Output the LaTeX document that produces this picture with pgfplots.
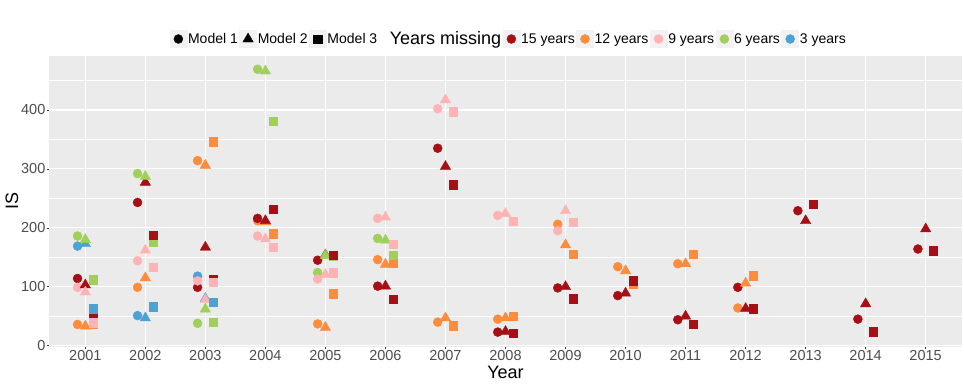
\documentclass[border=0pt]{standalone}
\usepackage{fontspec}
\setmainfont{Liberation Sans}
\usepackage{pgfplots}
\usepackage{pgfplotstable}
\pgfplotsset{compat=1.18}

\definecolor{panel}{HTML}{EBEBEB}
\definecolor{ticktext}{HTML}{4D4D4D}
\definecolor{c15}{HTML}{A50F15}
\definecolor{c12}{HTML}{FD8D3C}
\definecolor{c9}{HTML}{FFB3B5}
\definecolor{c6}{HTML}{A0CF5A}
\definecolor{c3}{HTML}{4BA2D3}

% IS values, one table per model; nan = no estimate for that year
\pgfplotstableread{
year r15 o12 p9  g6  b3
2001 114 36  99  186 169
2002 243 99  144 292 51
2003 99  314 110 38  118
2004 216 212 186 469 nan
2005 145 37  113 124 nan
2006 101 146 216 182 nan
2007 335 40  402 nan nan
2008 23  45  221 nan nan
2009 98  206 195 nan nan
2010 85  134 nan nan nan
2011 44  139 nan nan nan
2012 99  64  nan nan nan
2013 229 nan nan nan nan
2014 45  nan nan nan nan
2015 164 nan nan nan nan
}\modelone

\pgfplotstableread{
year r15 o12 p9  g6  b3
2001 103 33  91  180 173
2002 277 115 162 287 47
2003 167 306 78  62  80
2004 212 210 181 466 nan
2005 154 31  121 153 nan
2006 101 138 218 179 nan
2007 304 47  417 nan nan
2008 24  47  224 nan nan
2009 100 171 229 nan nan
2010 89  127 nan nan nan
2011 50  139 nan nan nan
2012 63  106 nan nan nan
2013 212 nan nan nan nan
2014 71  nan nan nan nan
2015 198 nan nan nan nan
}\modeltwo

\pgfplotstableread{
year r15 o12 p9  g6  b3
2001 50  37  39  112 63
2002 187 181 133 176 66
2003 112 346 108 40  74
2004 232 190 167 381 nan
2005 154 88  124 152 nan
2006 79  141 172 154 nan
2007 273 34  397 nan nan
2008 21  50  211 nan nan
2009 80  155 210 nan nan
2010 110 105 nan nan nan
2011 36  155 nan nan nan
2012 63  119 nan nan nan
2013 240 nan nan nan nan
2014 24  nan nan nan nan
2015 161 nan nan nan nan
}\modelthree

\pgfplotsset{
  m1/.style={only marks, mark=*, mark size=4.5pt, forget plot},
  m2/.style={only marks, mark=triangle*, mark size=6pt, forget plot},
  m3/.style={only marks, mark=square*, mark size=4.2pt, forget plot},
  keyimg/.style={legend image code/.code={
      \fill[black!5] (0pt,-8.5pt) rectangle (17pt,8.5pt);
      \draw[mark repeat=2,mark phase=2] plot coordinates {(0pt,0pt) (8.5pt,0pt) (17pt,0pt)};}},
}

\begin{document}
\begin{tikzpicture}
\useasboundingbox (-49.3pt,-39.5pt) rectangle (914.7pt,346.5pt);
\begin{axis}[
  at={(0,0)}, anchor=south west,
  scale only axis,
  width=912.4pt, height=290.5pt,
  xmin=2000.4, xmax=2015.6,
  ymin=-1.4, ymax=491.5,
  xtick={2001,...,2015},
  ytick={0,100,...,400},
  minor ytick={50,150,...,450},
  /pgf/number format/1000 sep={},
  /pgf/number format/assume math mode=true,
  axis background/.style={fill=panel},
  axis line style={draw=none},
  grid=both,
  major grid style={white, line width=1.2pt},
  minor grid style={white, line width=0.6pt},
  tick pos=left,
  tick align=outside,
  major tick length=2.75pt,
  minor tick length=0pt,
  tick style={color=black!80, line width=0.6pt},
  ticklabel style={font=\fontsize{14.5}{16}\selectfont, text=ticktext},
  xticklabel style={inner sep=1pt},
  yticklabel style={inner sep=1pt},
  xlabel={Year},
  ylabel={IS},
  xlabel style={at={(axis description cs:0.5,-0.11)}, anchor=base, font=\fontsize{18}{20}\selectfont},
  ylabel style={at={(axis description cs:-0.0343,0.5)}, anchor=base, font=\fontsize{18}{20}\selectfont},
  legend style={at={(axis description cs:0.503,1.0585)}, anchor=center,
    draw=none, fill=none, legend columns=-1,
    font=\fontsize{14}{16}\selectfont,
    nodes={inner sep=1pt},
    /tikz/every odd column/.append style={column sep=0pt},
    /tikz/every even column/.append style={column sep=0.5pt}},
]
% model 1: circles
\addplot[m1, color=c3]  table[x expr=\thisrow{year}-0.13, y=b3] {\modelone};
\addplot[m1, color=c12] table[x expr=\thisrow{year}-0.13, y=o12] {\modelone};
\addplot[m1, color=c15] table[x expr=\thisrow{year}-0.13, y=r15] {\modelone};
\addplot[m1, color=c6]  table[x expr=\thisrow{year}-0.13, y=g6] {\modelone};
\addplot[m1, color=c9]  table[x expr=\thisrow{year}-0.13, y=p9] {\modelone};
% model 2: triangles
\addplot[m2, color=c12] table[x=year, y=o12] {\modeltwo};
\addplot[m2, color=c15] table[x=year, y=r15] {\modeltwo};
\addplot[m2, color=c3]  table[x=year, y=b3] {\modeltwo};
\addplot[m2, color=c6]  table[x=year, y=g6] {\modeltwo};
\addplot[m2, color=c9]  table[x=year, y=p9] {\modeltwo};
% model 3: squares
\addplot[m3, color=c12] table[x expr=\thisrow{year}+0.13, y=o12] {\modelthree};
\addplot[m3, color=c6]  table[x expr=\thisrow{year}+0.13, y=g6] {\modelthree};
\addplot[m3, color=c15] table[x expr=\thisrow{year}+0.13, y=r15] {\modelthree};
\addplot[m3, color=c3]  table[x expr=\thisrow{year}+0.13, y=b3] {\modelthree};
\addplot[m3, color=c9]  table[x expr=\thisrow{year}+0.13, y=p9] {\modelthree};

% legend
\addlegendimage{only marks, mark=*, mark size=4.5pt, black, keyimg}
\addlegendentry{Model 1}
\addlegendimage{only marks, mark=triangle*, mark size=6pt, black, keyimg}
\addlegendentry{Model 2}
\addlegendimage{only marks, mark=square*, mark size=4.2pt, black, keyimg}
\addlegendentry{Model 3}
\addlegendimage{empty legend}
\addlegendentry{\hspace*{10pt}\fontsize{18}{20}\selectfont Years missing}
\addlegendimage{only marks, mark=*, mark size=4.5pt, c15, keyimg}
\addlegendentry{15 years}
\addlegendimage{only marks, mark=*, mark size=4.5pt, c12, keyimg}
\addlegendentry{12 years}
\addlegendimage{only marks, mark=*, mark size=4.5pt, c9, keyimg}
\addlegendentry{9 years}
\addlegendimage{only marks, mark=*, mark size=4.5pt, c6, keyimg}
\addlegendentry{6 years}
\addlegendimage{only marks, mark=*, mark size=4.5pt, c3, keyimg}
\addlegendentry{3 years}
\end{axis}
\end{tikzpicture}
\end{document}
